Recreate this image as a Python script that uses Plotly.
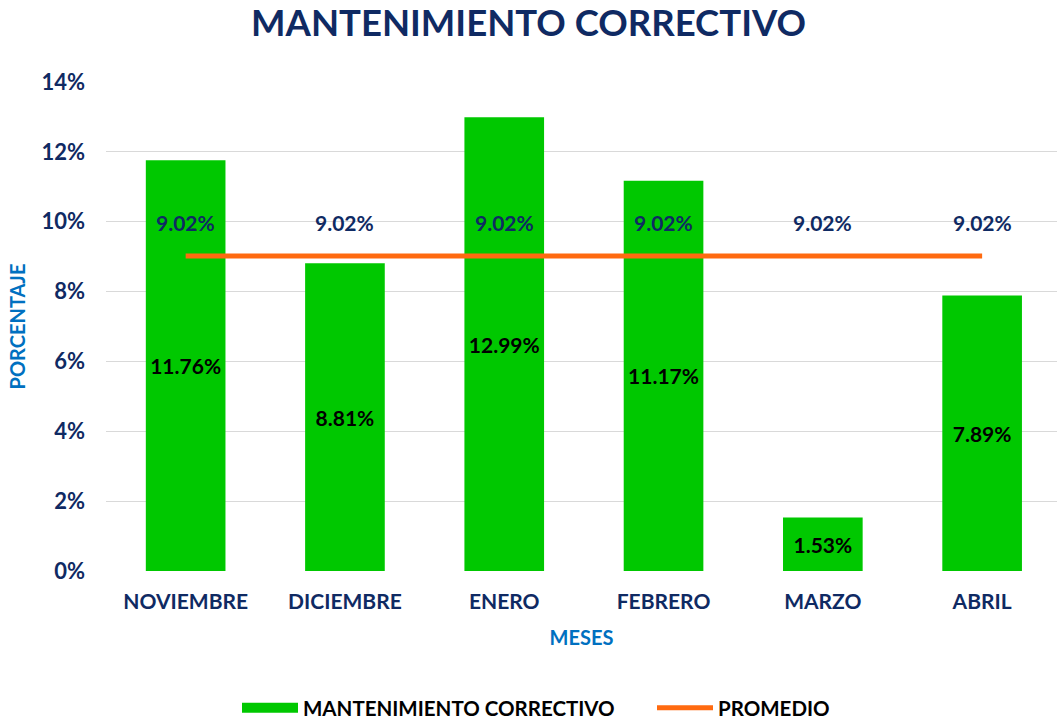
import plotly.graph_objects as go

meses = ["NOVIEMBRE", "DICIEMBRE", "ENERO", "FEBRERO", "MARZO", "ABRIL"]
correctivo = [11.76, 8.81, 12.99, 11.17, 1.53, 7.89]
promedio = [9.02, 9.02, 9.02, 9.02, 9.02, 9.02]
y_ticks = [0, 2, 4, 6, 8, 10, 12, 14]

FONT = "Lato, 'Open Sans', sans-serif"
NAVY = "#0f2a63"
BLUE = "#0070c0"
GREEN = "#00c800"
ORANGE = "#ff6a10"

fig = go.Figure()
fig.add_trace(go.Bar(
    x=meses, y=correctivo, name="MANTENIMIENTO CORRECTIVO", showlegend=False,
    marker=dict(color=GREEN, line=dict(width=0)), width=0.5,
    texttemplate="<b>%{y:.2f}%</b>", textposition="inside", insidetextanchor="middle",
    textfont=dict(family=FONT, size=21, color="black"),
    textangle=0, cliponaxis=False,
))
fig.add_trace(go.Scatter(
    x=meses, y=promedio, name="<b>PROMEDIO</b>", mode="lines",
    line=dict(color=ORANGE, width=5), legend="legend2",
))
# legend-only entry for the bars (wide green swatch)
fig.add_trace(go.Scatter(
    x=[None], y=[None], name="<b>MANTENIMIENTO CORRECTIVO</b>", mode="lines",
    line=dict(color=GREEN, width=14), legend="legend",
))
for m, p in zip(meses, promedio):
    fig.add_annotation(x=m, y=p, text=f"<b>{p:.2f}%</b>", showarrow=False,
                       yshift=33, font=dict(family=FONT, size=21, color=NAVY))

fig.update_layout(
    width=1057, height=721,
    margin=dict(l=106, r=0, t=82, b=150, autoexpand=False),
    paper_bgcolor="white", plot_bgcolor="white",
    font=dict(family=FONT),
    title=dict(text="<b>MANTENIMIENTO CORRECTIVO</b>", x=0.5, xanchor="center",
               y=0.968, yanchor="middle", yref="container",
               font=dict(family=FONT, size=36.5, color=NAVY)),
    showlegend=True,
    legend=dict(orientation="h", x=(237 - 106) / 951, xanchor="left", y=-0.28, yanchor="middle",
                font=dict(family=FONT, size=20.5, color="black"), itemwidth=56),
    legend2=dict(orientation="h", x=(652 - 106) / 951, xanchor="left", y=-0.28, yanchor="middle",
                 font=dict(family=FONT, size=20.5, color="black"), itemwidth=56),
    xaxis=dict(
        range=[-0.5, 5.47],
        tickvals=meses, ticktext=[f"<b>{m}</b>" for m in meses],
        tickfont=dict(family=FONT, size=21, color=NAVY),
        title=dict(text="<b>MESES</b>", font=dict(family=FONT, size=20, color=BLUE), standoff=18),
        showgrid=False, showline=False, ticks="", automargin=False, ticklabelstandoff=16,
    ),
    yaxis=dict(
        range=[0, 14], tickvals=y_ticks, ticktext=[f"<b>{t}%</b>" for t in y_ticks],
        tickfont=dict(family=FONT, size=22, color=NAVY),
        title=dict(text="<b>PORCENTAJE</b>", font=dict(family=FONT, size=20, color=BLUE), standoff=10),
        showgrid=True, gridcolor="#d9d9d9", gridwidth=1,
        zeroline=False, showline=False, ticks="", ticklabelstandoff=20, automargin=False,
    ),
)

fig.write_html("out.html", config={"displayModeBar": False},
               post_script="document.body.style.margin='0';")
